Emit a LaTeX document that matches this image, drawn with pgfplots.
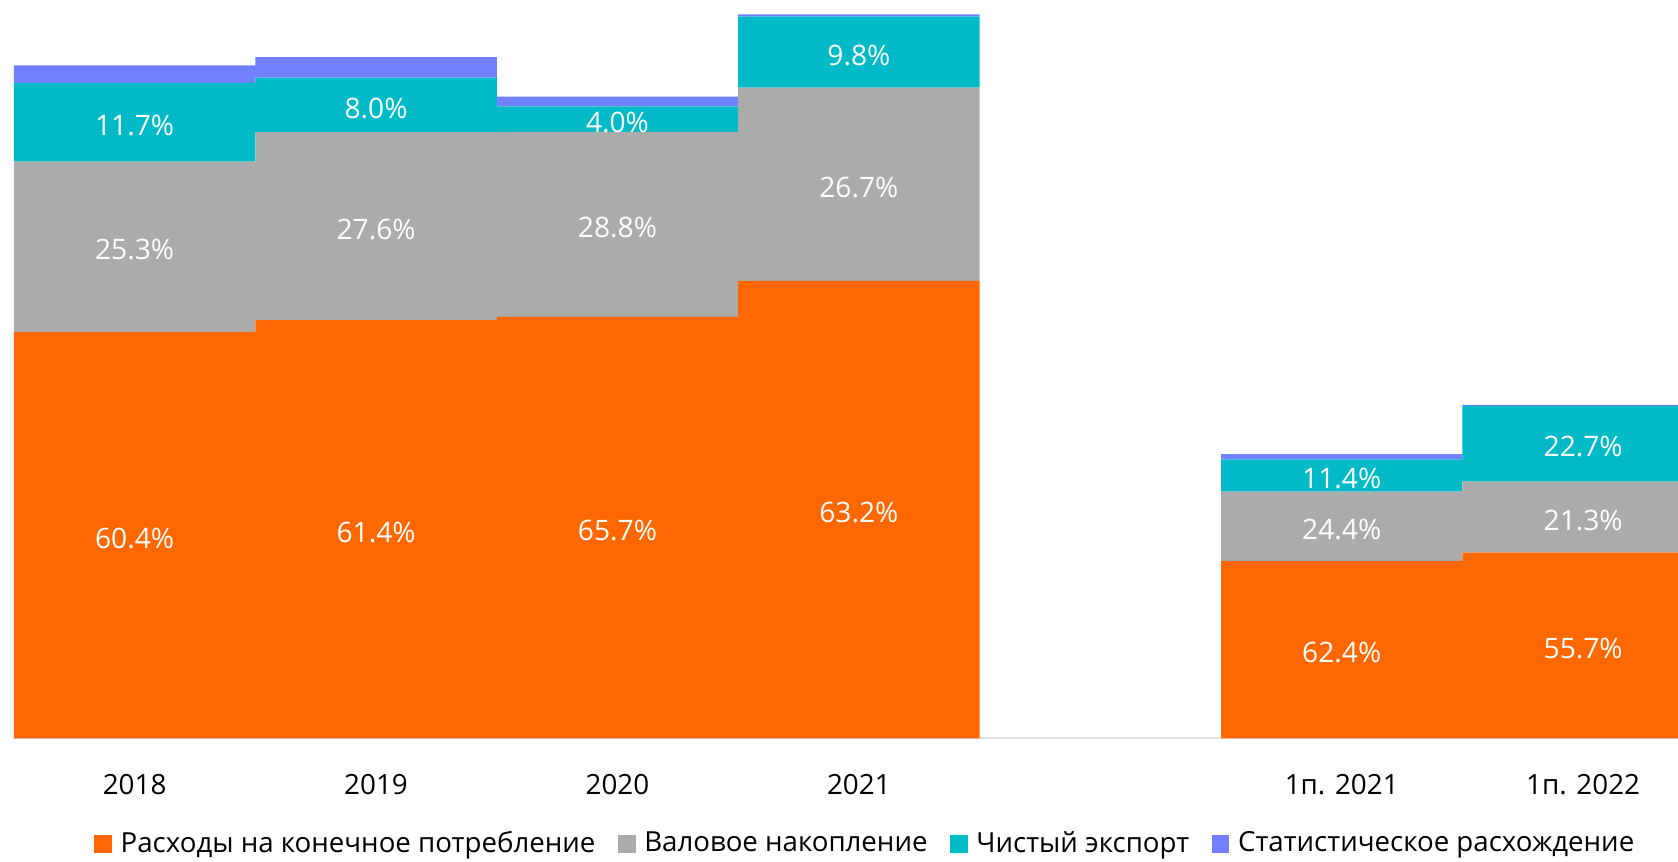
\documentclass[border=0pt]{standalone}
\usepackage{fontspec}
\setmainfont{Open Sans}
\usepackage{pgfplots}
\pgfplotsset{compat=1.18}
\usepackage{pgfplotstable}
\usetikzlibrary{calc}
\definecolor{cOrange}{RGB}{255,104,0}
\definecolor{cGray}{RGB}{171,171,171}
\definecolor{cTeal}{RGB}{0,187,199}
\definecolor{cPurple}{RGB}{112,128,255}

\pgfplotstableread{
x cons  gross net  stat pcons pgross pnet
0 379.9 159.1 73.6 16.4 60.4  25.3   11.7
1 390.9 175.7 50.9 19.1 61.4  27.6   8.0
2 394.0 172.7 24.0 9.0  65.7  28.8   4.0
3 427.6 180.6 66.3 2.0  63.2  26.7   9.8
5 165.7 64.8  30.3 4.8  62.4  24.4   11.4
6 173.6 66.4  70.7 0.9  55.7  21.3   22.7
}\gdp

\begin{document}
\begin{tikzpicture}
\begin{axis}[
  x=67.68pt, y=0.3pt,
  xmin=-0.5, xmax=6.393, ymin=0, ymax=690,
  ybar stacked, bar width=67.68pt,
  axis x line*=bottom, axis y line=none,
  x axis line style={draw=black!12, line width=0.6pt},
  ytick=\empty,
  xtick={0,1,2,3,5,6},
  xticklabels={2018,2019,2020,2021,1п. 2021,1п. 2022},
  major tick length=0pt,
  xticklabel style={anchor=center, yshift=-12.9pt, font=\fontsize{7.8}{10}\selectfont},
  point meta=explicit,
  /pgf/number format/assume math mode=true,
  legend columns=4,
  legend style={at={(axis description cs:0.511,-0.1435)}, anchor=center, draw=none, fill=none,
    font=\fontsize{7.75}{10}\selectfont,
    /tikz/every even column/.append style={column sep=6.3pt},
    /tikz/every odd column/.append style={column sep=2.4pt},
    nodes={inner xsep=0pt, inner ysep=1pt}},
  legend image code/.code={\fill[#1] (0pt,-2.5pt) rectangle (5pt,2.5pt);},
  every node near coord/.append style={font=\fontsize{7.9}{10}\selectfont, text=white, anchor=center, yshift=-0.9pt},
  segment label/.style={
    nodes near coords={\pgfmathprintnumber[fixed,fixed zerofill,precision=1]{\pgfplotspointmeta}\%}},
]
\addplot[fill=cOrange, draw=none, segment label] table[x=x, y=cons, meta=pcons] {\gdp};
\addplot[fill=cGray, draw=none, segment label] table[x=x, y=gross, meta=pgross] {\gdp};
\addplot[fill=cTeal, draw=none, segment label] table[x=x, y=net, meta=pnet] {\gdp};
\addplot[fill=cPurple, draw=none] table[x=x, y=stat, meta=pnet] {\gdp};
\legend{Расходы на конечное потребление, Валовое накопление, Чистый экспорт, Статистическое расхождение}
\end{axis}
\pgfresetboundingbox
\path ($(current axis.south west)+(-3.9pt,-34.5pt)$) rectangle (current axis.north east);
\end{tikzpicture}
\end{document}
